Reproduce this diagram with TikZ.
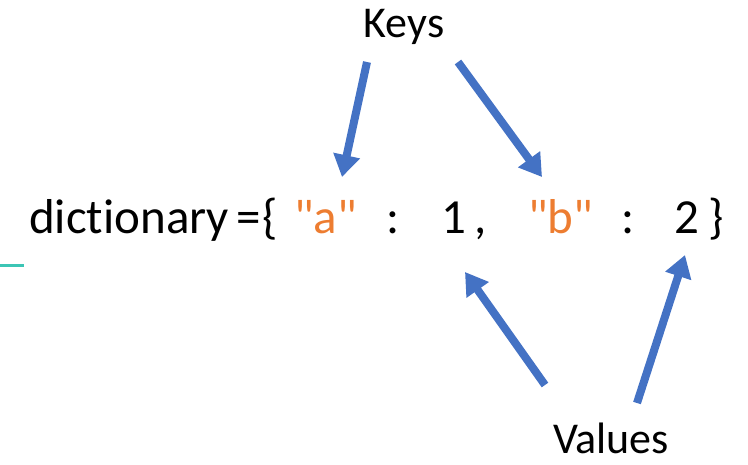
\documentclass[tikz,border=0pt]{standalone}
\usepackage{fontspec}
\setmainfont{Carlito}[Ligatures={TeXOff,CommonOff}]
\usetikzlibrary{arrows.meta,calc}
\definecolor{arrblue}{HTML}{4472C4}
\definecolor{keyorange}{HTML}{ED7D31}
\definecolor{tealline}{HTML}{3CC5B5}
\begin{document}
\begin{tikzpicture}[x=1pt,y=-1pt,
  tok/.style={anchor=base west, inner sep=0pt, font=\fontsize{49}{55}\selectfont},
  lbl/.style={anchor=base, inner sep=0pt, font=\fontsize{44}{50}\selectfont},
  arr/.style={draw=arrblue, line width=8pt, -{Triangle[length=22pt,width=26pt]}}]
\useasboundingbox (0,0) rectangle (748,464);
\node[tok] (dict) at (29,233) {dictionary};
\node[tok] (eq) at (236,233) {=};
\node[tok] (lb) at (262,233) {\{};
\node[tok, text=keyorange] (ka) at (294,233) {"a"};
\node[tok] (c1) at (386,233) {:};
\node[tok] (one) at (441,233) {1};
\node[tok] (comma) at (474,233) {,};
\node[tok, text=keyorange] (kb) at (528,233) {"b"};
\node[tok] (c2) at (621,233) {:};
\node[tok] (two) at (674,233) {2};
\node[tok] (rb) at (708,233) {\}};
\node[lbl] (keys) at (404,37) {Keys};
\node[lbl] (values) at (611,453) {Values};
\draw[arr] ($(keys.base)+(-37,25)$) -- ($(ka.base west)+(48,-56)$);
\draw[arr] ($(keys.base)+(54,25)$) -- ($(kb.base west)+(14,-56)$);
\draw[arr] ($(values.base)+(-66,-68)$) -- ($(one.base west)+(24,39)$);
\draw[arr] ($(values.base)+(26,-50)$) -- ($(two.base west)+(11,22)$);
\coordinate (t1) at (0,265);
\coordinate (t2) at (24,265);
\draw[tealline, line width=3pt] (t1) -- (t2);
\end{tikzpicture}
\end{document}
